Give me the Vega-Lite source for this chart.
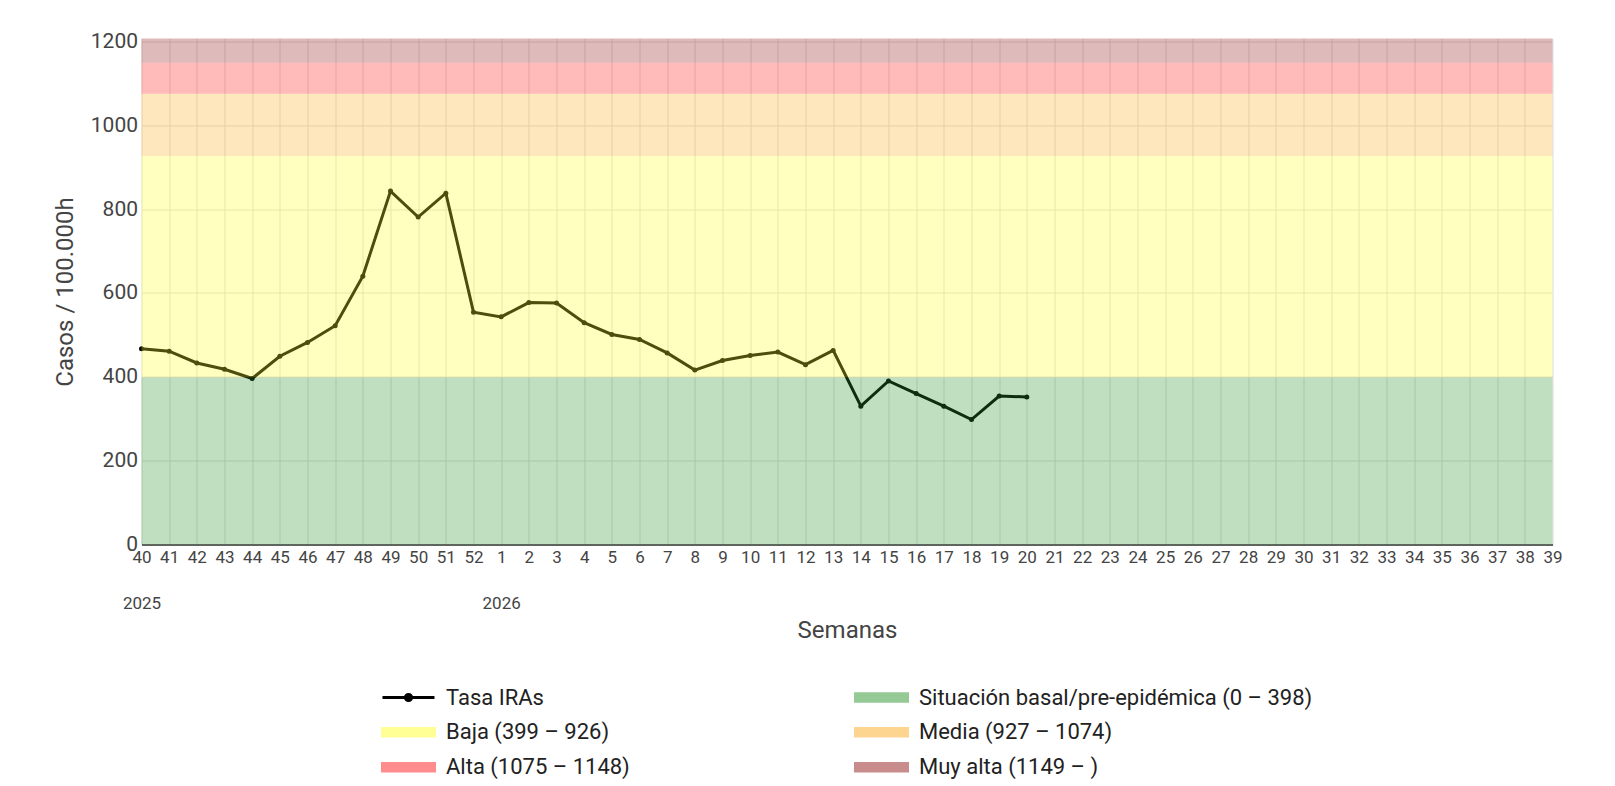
{
  "$schema": "https://vega.github.io/schema/vega-lite/v6.json",
  "width": 1411,
  "height": 506,
  "autosize": {"type": "none"},
  "padding": {"left": 141.5, "top": 38.5, "right": 62.5, "bottom": 241.5},
  "background": "white",
  "config": {"font": "Roboto", "view": {"stroke": null}},
  "datasets": {
    "tasa": [
      {"semana": "40", "tasa": 467}, {"semana": "41", "tasa": 461}, {"semana": "42", "tasa": 433},
      {"semana": "43", "tasa": 418}, {"semana": "44", "tasa": 396}, {"semana": "45", "tasa": 449},
      {"semana": "46", "tasa": 482}, {"semana": "47", "tasa": 522}, {"semana": "48", "tasa": 640},
      {"semana": "49", "tasa": 843}, {"semana": "50", "tasa": 781}, {"semana": "51", "tasa": 838},
      {"semana": "52", "tasa": 554}, {"semana": "1", "tasa": 543}, {"semana": "2", "tasa": 577},
      {"semana": "3", "tasa": 576}, {"semana": "4", "tasa": 529}, {"semana": "5", "tasa": 501},
      {"semana": "6", "tasa": 489}, {"semana": "7", "tasa": 457}, {"semana": "8", "tasa": 416},
      {"semana": "9", "tasa": 439}, {"semana": "10", "tasa": 451}, {"semana": "11", "tasa": 459},
      {"semana": "12", "tasa": 429}, {"semana": "13", "tasa": 463}, {"semana": "14", "tasa": 330},
      {"semana": "15", "tasa": 390}, {"semana": "16", "tasa": 360}, {"semana": "17", "tasa": 330},
      {"semana": "18", "tasa": 298}, {"semana": "19", "tasa": 354}, {"semana": "20", "tasa": 352}
    ],
    "umbrales": [
      {"nivel": "Situación basal/pre-epidémica (0 – 398)", "desde": 0, "hasta": 399},
      {"nivel": "Baja (399 – 926)", "desde": 399, "hasta": 927},
      {"nivel": "Media (927 – 1074)", "desde": 927, "hasta": 1075},
      {"nivel": "Alta (1075 – 1148)", "desde": 1075, "hasta": 1149},
      {"nivel": "Muy alta (1149 – )", "desde": 1149, "hasta": 1207}
    ]
  },
  "layer": [
    {
      "data": {"name": "tasa"},
      "mark": {"type": "line", "strokeWidth": 3, "point": {"filled": true, "size": 25}},
      "encoding": {
        "x": {
          "field": "semana", "type": "ordinal",
          "scale": {"type": "point", "padding": 0, "domain": ["40","41","42","43","44","45","46","47","48","49","50","51","52","1","2","3","4","5","6","7","8","9","10","11","12","13","14","15","16","17","18","19","20","21","22","23","24","25","26","27","28","29","30","31","32","33","34","35","36","37","38","39"]},
          "axis": {
            "title": "Semanas", "grid": true, "gridColor": "#dddddd", "ticks": false, "tickSize": 0,
            "labelAngle": 0, "labelFontSize": 17, "labelColor": "#444444", "labelPadding": 5,
            "labelLineHeight": 46, "labelOverlap": false, "labelBound": false,
            "labelExpr": "datum.value == '40' ? ['40', '2025'] : datum.value == '1' ? ['1', '2026'] : datum.label",
            "domainColor": "#333333", "domainWidth": 1.5,
            "titleFontSize": 24, "titleFontWeight": "normal", "titleColor": "#444444", "titlePadding": 7
          }
        },
        "y": {
          "field": "tasa", "type": "quantitative",
          "scale": {"domain": [0, 1207], "nice": false},
          "axis": {
            "title": "Casos / 100.000h", "values": [0, 200, 400, 600, 800, 1000, 1200], "format": "d",
            "grid": true, "gridColor": "#dddddd", "ticks": false, "tickSize": 0, "domain": false,
            "labelFontSize": 21, "labelColor": "#444444", "labelPadding": 4,
            "titleFontSize": 24, "titleFontWeight": "normal", "titleColor": "#444444", "titlePadding": 13
          }
        },
        "color": {
          "datum": "Tasa IRAs", "type": "nominal",
          "scale": {
            "domain": ["Tasa IRAs", "Situación basal/pre-epidémica (0 – 398)", "Baja (399 – 926)", "Media (927 – 1074)", "Alta (1075 – 1148)", "Muy alta (1149 – )"],
            "range": ["#000000", "#2d942d", "#ffff2d", "#fcac26", "#ff1c1c", "#941c1c"]
          },
          "legend": {
            "orient": "none", "legendX": 239.5, "legendY": 641.5, "columns": 2, "direction": "horizontal", "title": null,
            "padding": 0, "symbolSize": 2704, "symbolType": "M-1,-0.14H1V0.14H-1Z",
            "labelFontSize": 22, "labelColor": "#222222", "labelOffset": 10, "labelLimit": 600,
            "rowPadding": 0, "columnPadding": 224, "clipHeight": 34.5,
            "encode": {
              "symbols": {
                "update": {
                  "shape": {"signal": "datum.value === 'Tasa IRAs' ? 'M-1,0H1M-0.12,0A0.12,0.12,0,1,0,0.12,0A0.12,0.12,0,1,0,-0.12,0' : 'M-1,-0.14H1V0.14H-1Z'"},
                  "stroke": {"signal": "datum.value === 'Tasa IRAs' ? '#000000' : 'transparent'"},
                  "strokeWidth": {"value": 3},
                  "opacity": {"signal": "datum.value === 'Tasa IRAs' ? 1 : 0.5"},
                  "fillOpacity": {"value": 1},
                  "strokeOpacity": {"value": 1}
                }
              }
            }
          }
        }
      }
    },
    {
      "data": {"name": "umbrales"},
      "mark": {"type": "rect", "opacity": 0.3},
      "encoding": {
        "x": {"datum": "40", "type": "ordinal"},
        "x2": {"datum": "39"},
        "y": {"field": "desde", "type": "quantitative"},
        "y2": {"field": "hasta"},
        "color": {"field": "nivel", "type": "nominal", "legend": {"title": null}}
      }
    }
  ]
}
